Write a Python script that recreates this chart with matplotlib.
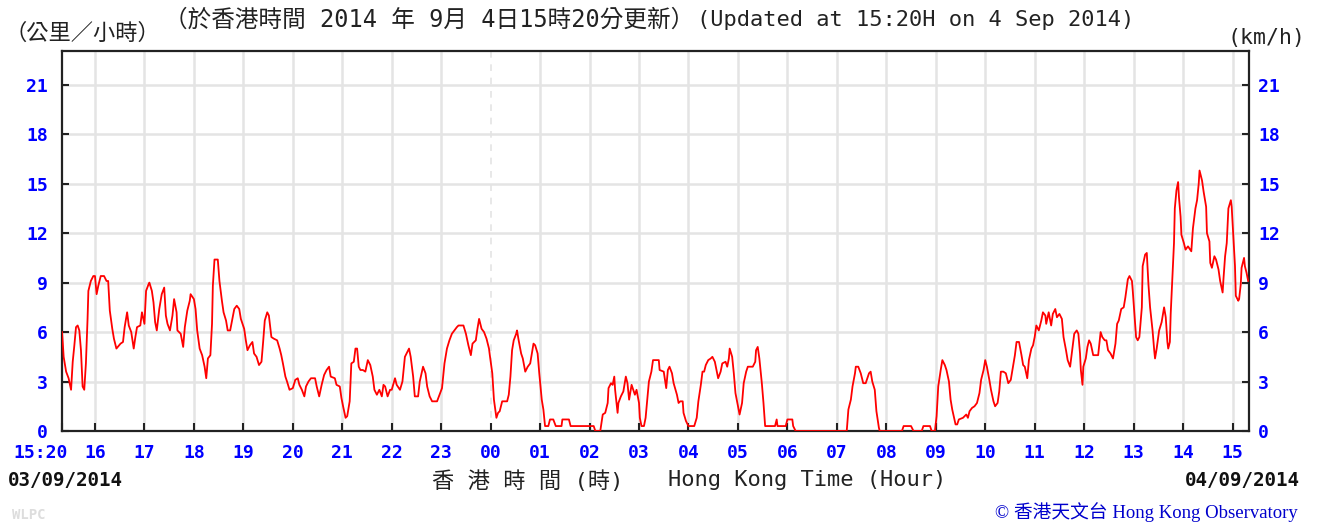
import matplotlib
matplotlib.use("Agg")
import matplotlib.pyplot as plt
from matplotlib.transforms import ScaledTranslation

# minutes after 15:20 HKT on 3 Sep 2014, and wind speed (km/h)
minutes = [0, 1, 2, 5, 8, 11, 13, 15, 17, 19, 21, 23, 25, 27, 29, 31, 32, 35, 38, 40,
           42, 44, 47, 51, 54, 56, 58, 61, 63, 66, 71, 74, 76, 79, 81, 84, 87, 89, 91, 95,
           97, 100, 102, 105, 106, 109, 111, 113, 115, 118, 121, 124, 126, 128, 131, 134, 136, 139, 140, 144,
           147, 149, 152, 155, 156, 160, 162, 164, 167, 170, 173, 175, 177, 180, 182, 183, 185, 189, 191, 194,
           196, 199, 201, 204, 207, 209, 212, 215, 217, 221, 223, 225, 228, 231, 233, 236, 239, 242, 244, 246,
           249, 251, 254, 257, 261, 264, 266, 268, 271, 273, 276, 280, 283,
           286, 288, 291, 294, 296, 299, 302, 307, 309, 312, 315, 318, 321, 324, 326, 331, 333, 337, 339, 341,
           344, 346, 349, 351, 354, 356, 358, 360, 362, 365, 368, 371, 374, 377, 379, 382, 385, 388, 390, 392,
           395, 398, 400, 404, 406, 410, 413, 416, 418, 421, 423, 426, 428, 432, 434, 438, 441, 443, 446, 449,
           455, 458, 461, 464, 467, 470, 473, 476, 479, 481, 487, 490, 493, 496, 498, 502, 504, 506, 509, 512,
           515, 518, 519, 522, 524, 527, 529, 531, 534, 540, 542, 544, 546, 548, 551, 552, 554, 557, 559, 562,
           565, 568, 570, 572, 574, 577, 579, 582, 584, 586,
           590, 592, 596, 599, 606, 607, 615, 617, 645, 647, 653, 656, 659, 662, 663, 666, 668, 670, 671, 674,
           675, 678, 681, 684, 686, 688, 691, 693, 695, 697, 700, 701, 703, 706, 708, 710, 712, 715, 717, 724,
           725, 730, 733, 735, 737, 740, 742, 746, 748, 750, 753, 754, 757, 760, 767, 770, 772, 775, 777, 779,
           781, 784, 787, 789, 792, 794, 796, 799, 801, 805, 807, 809, 810, 813, 815, 817, 820, 822, 825, 827,
           830, 832, 838, 841, 842, 844, 846, 849, 851, 853, 865, 867, 868, 878, 880, 883,
           886, 887, 890, 952, 954, 957, 959, 962, 963, 966, 969, 972, 975, 979, 981, 983, 986, 988, 991, 992,
           1019, 1021, 1030, 1033, 1043, 1045, 1053, 1055, 1059, 1061, 1063, 1066, 1068, 1071, 1073, 1076, 1078, 1080, 1084, 1086,
           1088, 1093, 1097, 1099, 1101, 1104, 1107, 1110, 1113, 1115, 1118, 1120, 1122, 1125, 1127, 1130, 1132, 1135, 1137, 1139,
           1142, 1145, 1148, 1151, 1153, 1156, 1158, 1161, 1164, 1166, 1168, 1171,
           1173, 1176, 1178, 1180, 1182, 1185, 1188, 1190, 1193, 1194, 1197, 1200, 1202, 1205, 1207, 1210, 1213, 1215, 1218, 1220,
           1223, 1226, 1228, 1231, 1233, 1235, 1236, 1238, 1239, 1242, 1244, 1246, 1248, 1251, 1257, 1260, 1262, 1265, 1267, 1269,
           1272, 1275, 1278, 1280, 1282, 1285, 1288, 1290, 1293, 1295, 1298, 1299, 1301, 1303, 1305, 1307, 1310, 1311, 1314, 1316,
           1318, 1320, 1323, 1325, 1326, 1328, 1331, 1334, 1337, 1339, 1341, 1342, 1344, 1345, 1347, 1349, 1350, 1352, 1354, 1355,
           1357, 1358, 1361, 1363, 1366, 1370, 1372, 1375, 1377, 1379, 1380, 1383, 1385, 1388, 1389, 1392, 1393, 1395, 1398, 1400,
           1403, 1405, 1408, 1409, 1411, 1413, 1415, 1418, 1419, 1421, 1423, 1424, 1427, 1428, 1430, 1431, 1434, 1435, 1437, 1439]
speed = [6.0, 5.3, 4.5, 3.6, 3.2, 2.5, 4.2, 5.2, 6.3, 6.4, 6.1, 4.9, 2.7, 2.5, 4.1, 6.8, 8.5, 9.1, 9.4, 9.4,
         8.3, 8.8, 9.4, 9.4, 9.1, 9.1, 7.3, 6.2, 5.6, 5.0, 5.3, 5.4, 6.3, 7.2, 6.4, 6.0, 5.0, 5.7, 6.3, 6.4,
         7.2, 6.5, 8.5, 8.9, 9.0, 8.5, 7.8, 6.6, 6.1, 7.4, 8.3, 8.7, 7.0, 6.5, 6.1, 7.0, 8.0, 7.2, 6.1, 5.9,
         5.1, 6.3, 7.3, 7.9, 8.3, 8.0, 7.4, 6.1, 5.0, 4.6, 3.9, 3.2, 4.4, 4.6, 6.5, 8.8, 10.4, 10.4, 9.1, 7.9,
         7.2, 6.7, 6.1, 6.1, 6.9, 7.4, 7.6, 7.4, 6.8, 6.2, 5.5, 4.9, 5.2, 5.4, 4.7, 4.5, 4.0, 4.2, 5.4, 6.7,
         7.2, 7.0, 5.7, 5.6, 5.5, 5.0, 4.6, 4.1, 3.3, 3.0, 2.5, 2.6, 3.1,
         3.2, 2.8, 2.5, 2.1, 2.7, 3.0, 3.2, 3.2, 2.7, 2.1, 2.8, 3.4, 3.7, 3.9, 3.3, 3.2, 2.8, 2.7, 2.0, 1.5,
         0.8, 0.9, 1.8, 4.1, 4.2, 5.0, 5.0, 3.9, 3.7, 3.7, 3.6, 4.3, 4.0, 3.3, 2.5, 2.2, 2.5, 2.1, 2.8, 2.7,
         2.1, 2.5, 2.5, 3.2, 2.8, 2.5, 3.0, 4.5, 4.7, 5.0, 4.5, 3.3, 2.1, 2.1, 3.0, 3.9, 3.5, 2.7, 2.1, 1.8,
         1.8, 2.2, 2.6, 4.1, 5.0, 5.5, 5.9, 6.1, 6.3, 6.4, 6.4, 5.9, 5.2, 4.6, 5.3, 5.5, 6.2, 6.8, 6.2, 6.0,
         5.6, 5.0, 4.6, 3.5, 1.9, 0.8, 1.1, 1.2, 1.8, 1.8, 2.2, 3.3, 4.9, 5.5, 5.9, 6.1, 5.5, 4.7, 4.4, 3.6,
         3.9, 4.1, 4.7, 5.3, 5.2, 4.7, 3.5, 1.9, 1.3, 0.3,
         0.3, 0.7, 0.7, 0.3, 0.3, 0.7, 0.7, 0.3, 0.3, 0.0, 0.0, 1.0, 1.1, 1.7, 2.6, 2.9, 2.8, 3.3, 2.5, 1.1,
         1.7, 2.1, 2.4, 3.3, 2.9, 1.9, 2.8, 2.5, 2.2, 2.5, 1.7, 0.8, 0.3, 0.3, 0.8, 1.9, 3.0, 3.6, 4.3, 4.3,
         3.7, 3.6, 2.6, 3.7, 3.9, 3.5, 2.9, 2.2, 1.7, 1.8, 1.8, 1.1, 0.6, 0.3, 0.3, 0.8, 1.8, 2.8, 3.6, 3.6,
         4.0, 4.3, 4.4, 4.5, 4.2, 3.7, 3.2, 3.6, 4.1, 4.2, 3.9, 4.4, 5.0, 4.5, 3.5, 2.3, 1.5, 1.0, 1.7, 2.9,
         3.6, 3.9, 3.9, 4.2, 4.9, 5.1, 4.4, 2.9, 1.7, 0.3, 0.3, 0.7, 0.3, 0.3, 0.7, 0.7,
         0.7, 0.3, 0.0, 0.0, 1.3, 1.9, 2.7, 3.5, 3.9, 3.9, 3.5, 2.9, 2.9, 3.5, 3.6, 3.0, 2.5, 1.2, 0.2, 0.0,
         0.0, 0.3, 0.3, 0.0, 0.0, 0.3, 0.3, 0.0, 0.0, 0.9, 2.7, 3.7, 4.3, 4.0, 3.7, 3.0, 1.9, 1.3, 0.4, 0.4,
         0.7, 0.8, 1.0, 0.8, 1.2, 1.4, 1.5, 1.7, 2.3, 3.1, 3.7, 4.3, 3.9, 3.1, 2.5, 1.8, 1.5, 1.7, 2.4, 3.6,
         3.6, 3.5, 2.9, 3.1, 3.7, 4.6, 5.4, 5.4, 4.6, 4.0, 3.9, 3.2,
         4.3, 5.0, 5.2, 5.7, 6.4, 6.1, 6.7, 7.2, 7.0, 6.5, 7.2, 6.4, 7.1, 7.4, 6.9, 7.1, 6.8, 5.7, 4.9, 4.3,
         3.9, 5.1, 5.9, 6.1, 5.9, 4.7, 3.7, 2.8, 3.9, 4.4, 5.1, 5.5, 5.3, 4.6, 4.6, 6.0, 5.7, 5.5, 5.5, 4.9,
         4.7, 4.4, 5.3, 6.5, 6.7, 7.4, 7.5, 8.1, 9.2, 9.4, 9.1, 8.5, 7.1, 5.7, 5.5, 5.7, 7.5, 10.0, 10.7, 10.8,
         8.9, 7.5, 6.1, 4.9, 4.4, 5.0, 6.1, 6.6, 7.5, 6.9, 5.4, 5.0, 5.4, 7.1, 9.2, 11.4, 13.5, 14.6, 15.1, 14.2,
         13.0, 11.9, 11.4, 11.0, 11.2, 10.9, 12.3, 13.5, 14.0, 15.0, 15.8, 15.2, 14.5, 13.6, 12.0, 11.5, 10.2, 9.9, 10.6, 10.4,
         9.8, 9.1, 8.4, 9.2, 10.6, 11.4, 13.5, 14.0, 13.6, 11.8, 10.0, 8.2, 7.9, 8.0, 8.9, 9.9, 10.5, 10.0, 9.6, 9.1]

hour_ticks = [0] + list(range(40, 1440, 60))
hour_labels = ["15:20", "16", "17", "18", "19", "20", "21", "22", "23", "00", "01", "02", "03",
               "04", "05", "06", "07", "08", "09", "10", "11", "12", "13", "14", "15"]
y_ticks = [0, 3, 6, 9, 12, 15, 18, 21]

cjk = ["DejaVu Sans Mono", "Noto Sans CJK TC"]
blue = "#0000ff"
ink = "#222222"

fig = plt.figure(figsize=(13.2, 5.26), dpi=100)
ax = fig.add_axes([62 / 1320, 1 - 431 / 526, (1249 - 62) / 1320, (431 - 51) / 526])

# grid: hourly verticals (midnight dashed), horizontals every 3 km/h
for t, lab in zip(hour_ticks[1:], hour_labels[1:]):
    if lab == "00":
        ax.axvline(t, color="#e4e4e4", lw=1.2, ls=(0, (4, 4)), zorder=1)
    else:
        ax.axvline(t, color="#e4e4e4", lw=1.8, zorder=1)
for v in y_ticks[1:]:
    ax.axhline(v, color="#e4e4e4", lw=1.8, zorder=1)

ax.plot(minutes, speed, color="#ff0000", lw=1.3, zorder=3)

ax.set_xlim(0, 1440)
ax.set_ylim(0, 23.05)
ax.set_xticks(hour_ticks)
ax.set_xticklabels(hour_labels)
ax.set_yticks(y_ticks)
ax.tick_params(axis="both", direction="in", color=ink, width=1.5, length=5,
               labelcolor=blue, labelsize=13)
ax.tick_params(axis="x", length=6, pad=9)
ax.tick_params(axis="y", left=True, right=True, labelleft=True, labelright=True, pad=10)
for lab in ax.get_xticklabels() + ax.get_yticklabels():
    lab.set_family("DejaVu Sans Mono")
    lab.set_fontweight("bold")
for tk in ax.yaxis.get_major_ticks():
    tk.label2.set_family("DejaVu Sans Mono")
    tk.label2.set_fontweight("bold")
    tk.label2.set_color(blue)
    tk.label2.set_transform(tk.label2.get_transform()
                            + ScaledTranslation(-5 / 100, 0, fig.dpi_scale_trans))
first = ax.get_xticklabels()[0]
first.set_horizontalalignment("right")
first.set_transform(first.get_transform() + ScaledTranslation(6 / 100, 0, fig.dpi_scale_trans))
for s in ax.spines.values():
    s.set_color(ink)
    s.set_linewidth(1.6)

# texts
fig.text(4 / 1320, 1 - 33 / 526, "（公里／小時）", family=cjk, fontsize=16, va="center", ha="left",
         color=ink)
fig.text(164 / 1320, 1 - 20 / 526, "（於香港時間 2014 年 9月 4日15時20分更新）",
         family=cjk, fontsize=17, va="center", ha="left", color=ink)
fig.text(697 / 1320, 1 - 20 / 526, "(Updated at 15:20H on 4 Sep 2014)",
         family=cjk, fontsize=15.8, va="center", ha="left", color=ink)
fig.text(1228 / 1320, 1 - 38 / 526, "(km/h)", family=cjk, fontsize=15.5, va="center", ha="left",
         color=ink)
fig.text(8 / 1320, 1 - 480 / 526, "03/09/2014", family="DejaVu Sans Mono", fontweight="bold",
         fontsize=13.8, va="center", ha="left", color="#111111")
fig.text(1300 / 1320, 1 - 480 / 526, "04/09/2014", family="DejaVu Sans Mono", fontweight="bold",
         fontsize=13.8, va="center", ha="right", color="#111111")
fig.text(432 / 1320, 1 - 481 / 526, "香 港 時 間 (時)", family=cjk,
         fontsize=16, va="center", ha="left", color=ink)
fig.text(668 / 1320, 1 - 480 / 526, "Hong Kong Time (Hour)", family=cjk,
         fontsize=15.8, va="center", ha="left", color=ink)
fig.text(12 / 1320, 1 - 515 / 526, "WLPC", family="DejaVu Sans Mono", fontweight="bold",
         fontsize=10, va="center", ha="left", color="#dddddd")
fig.text(1298 / 1320, 1 - 512 / 526, "© 香港天文台 Hong Kong Observatory",
         family=["Liberation Serif", "Noto Sans CJK TC"], fontsize=13.5, va="center", ha="right",
         color="#0000cc")

fig.savefig("out.png", dpi=100)
